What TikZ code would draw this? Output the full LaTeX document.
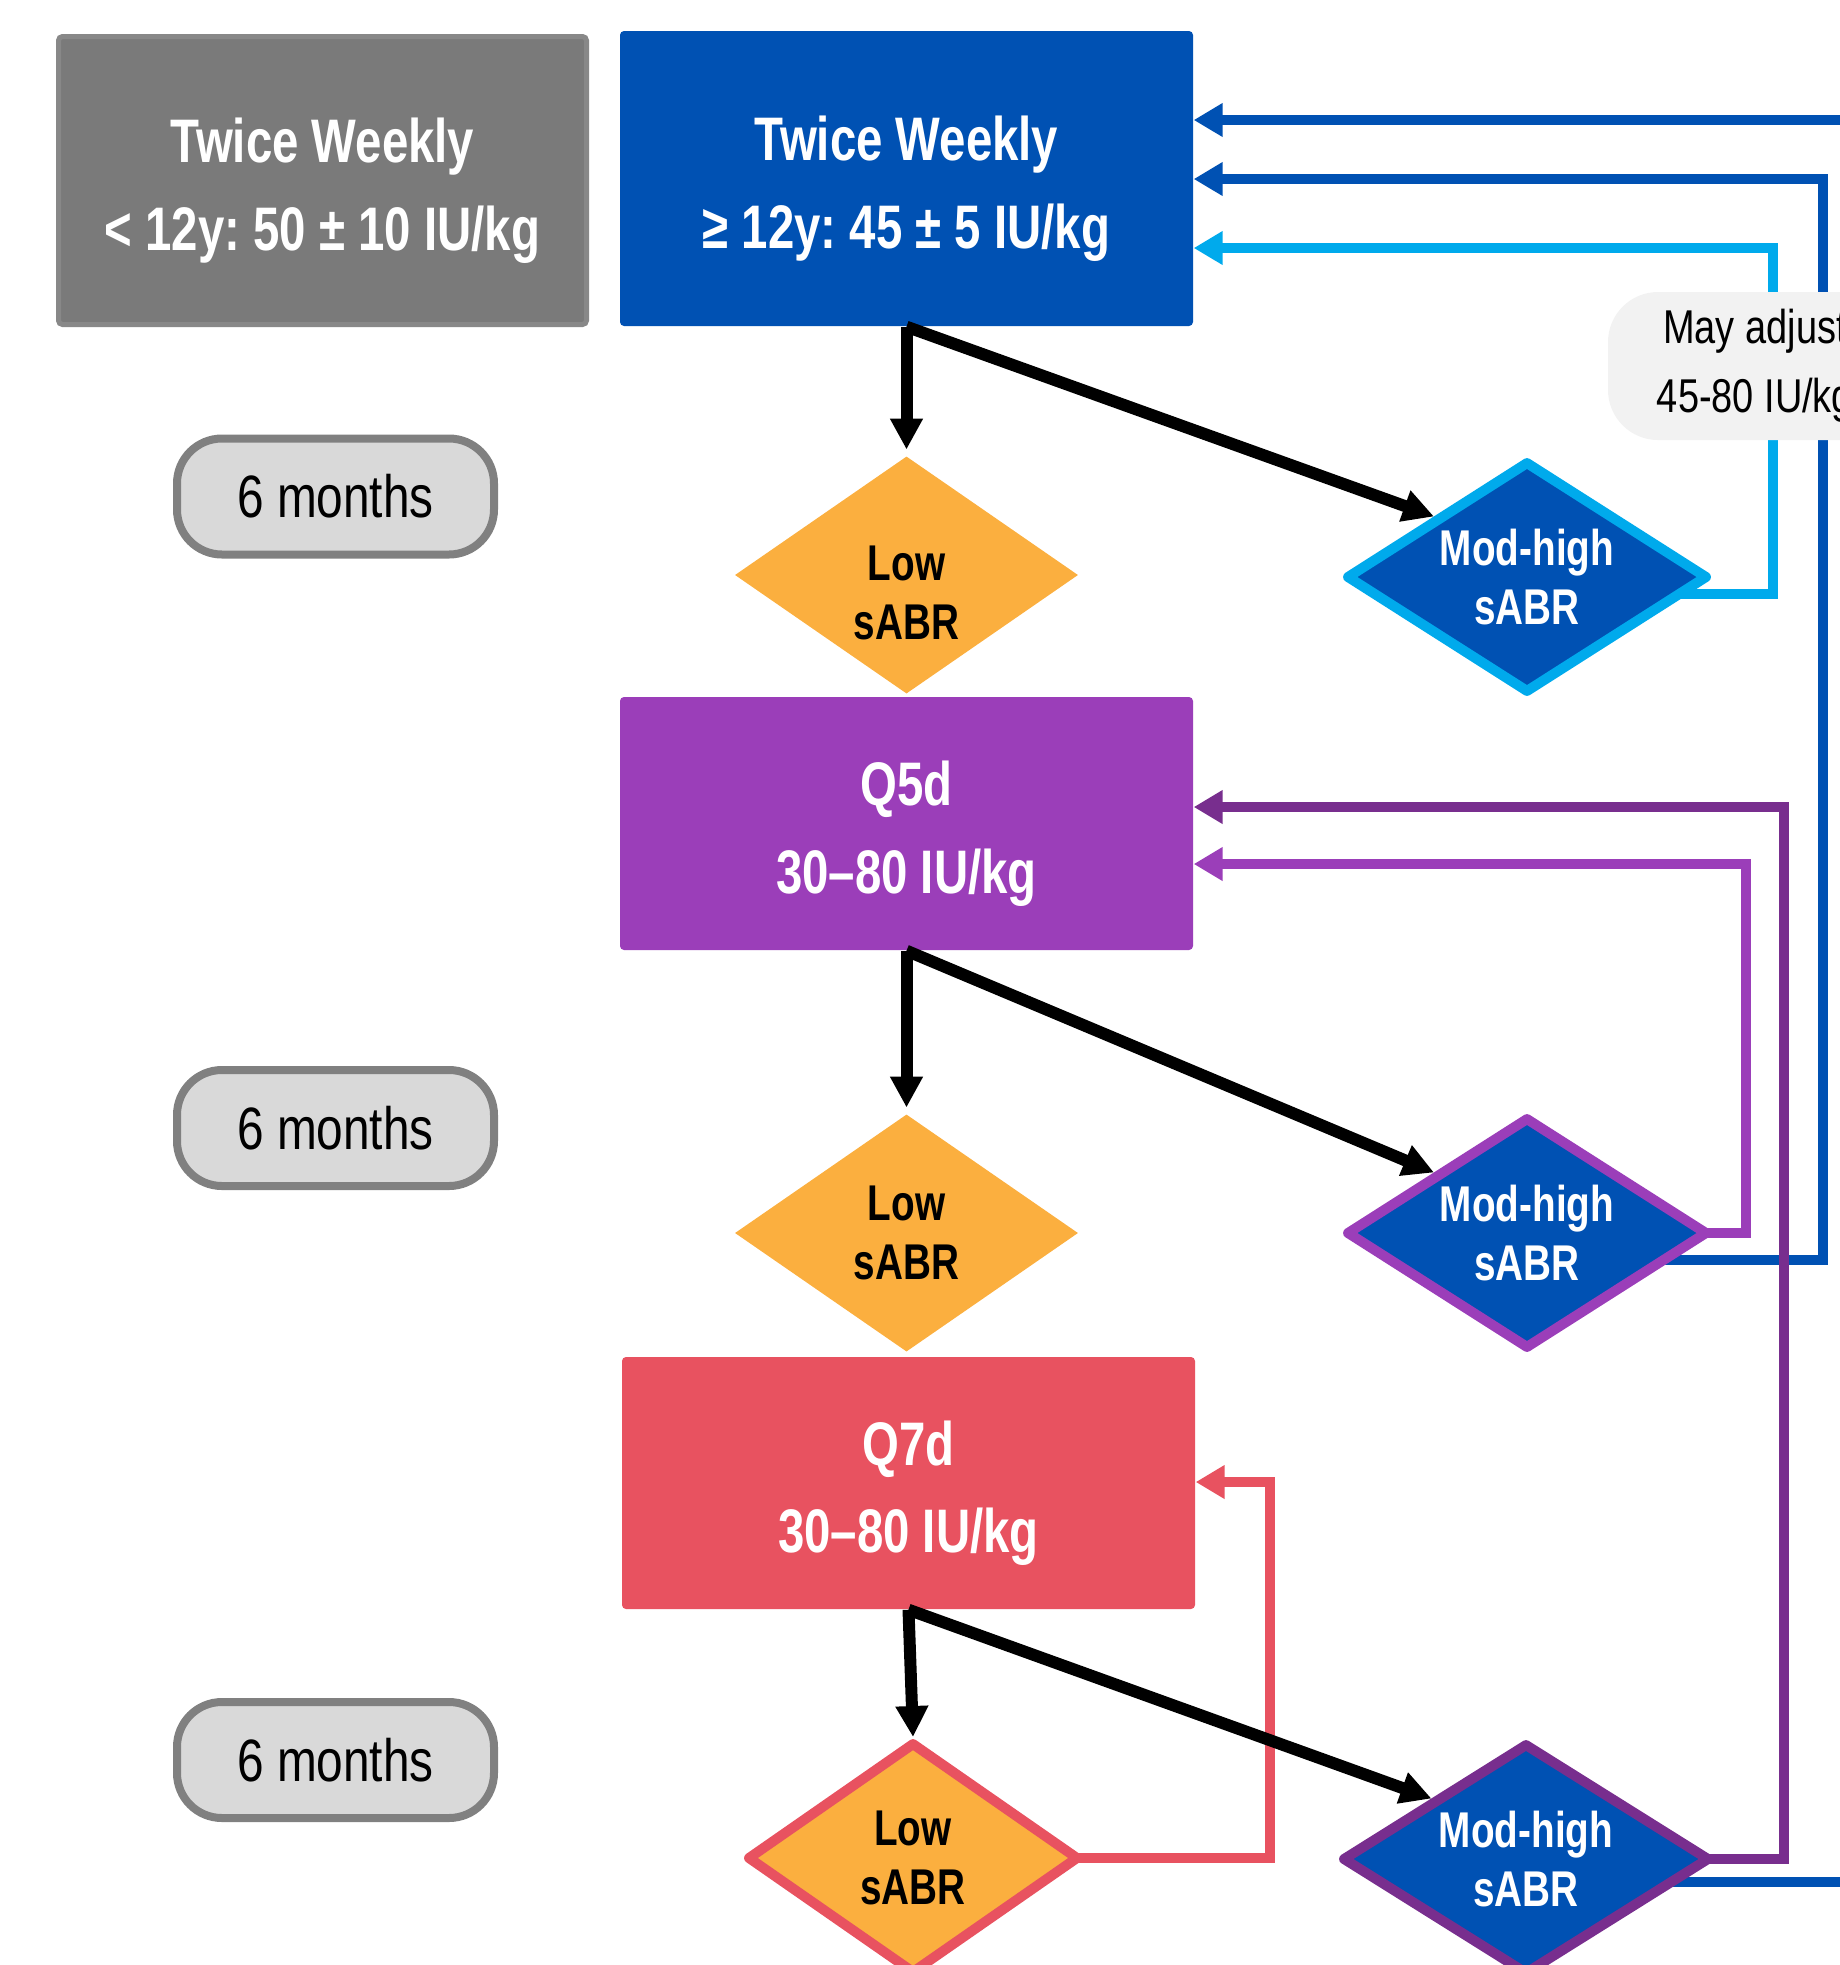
\documentclass[tikz,border=0pt]{standalone}
\usepackage{fontspec}
\setmainfont{Liberation Sans}[FakeStretch=0.8]
\newfontfamily\headfont{Liberation Sans}[FakeStretch=0.77]
\usetikzlibrary{shapes.geometric,arrows.meta,backgrounds}
\frenchspacing

\definecolor{dosegray}{RGB}{122,122,122}
\definecolor{doseedge}{RGB}{136,136,136}
\definecolor{doseblue}{RGB}{0,81,179}
\definecolor{dosepurple}{RGB}{155,62,185}
\definecolor{darkpurple}{RGB}{120,46,142}
\definecolor{dosered}{RGB}{232,82,96}
\definecolor{loworange}{RGB}{251,175,63}
\definecolor{lightblue}{RGB}{0,170,236}
\definecolor{pillgray}{RGB}{217,217,217}
\definecolor{pillline}{RGB}{128,128,128}
\definecolor{notegray}{RGB}{242,242,242}

\newcommand{\boxlift}{\rule{0pt}{18.5pt}}
\newcommand{\lowlift}{\rule{0pt}{20pt}}

\begin{document}
\begin{tikzpicture}[
  dosebox/.style={rectangle, rounded corners=0.04cm, minimum width=5.73cm, text=white,
    font=\fontsize{17.5}{25}\selectfont\headfont\bfseries, align=center},
  decision/.style={diamond, aspect=1.5, inner sep=0pt, line width=0.1cm, line join=round, align=center,
    font=\fontsize{14.3}{16.8}\selectfont\headfont\bfseries},
  lowbox/.style={decision, fill=loworange, minimum width=3.47cm, minimum height=2.41cm},
  highbox/.style={decision, fill=doseblue, text=white, minimum width=3.62cm, minimum height=2.32cm},
  pill/.style={rectangle, rounded corners=0.45cm, fill=pillgray, draw=pillline, line width=0.08cm,
    minimum width=3.17cm, minimum height=1.16cm, font=\fontsize{17}{20}\selectfont},
  steparrow/.style={line width=0.12cm, -{Triangle[length=0.31cm,width=0.31cm]}},
  backarrow/.style={line width=0.1cm, -{Triangle[length=0.29cm,width=0.32cm]}},
]
\useasboundingbox (0,0) rectangle (18.4,-19.65);
\clip (0,0) rectangle (18.4,-19.65);

\node[dosebox, fill=dosegray, draw=doseedge, line width=0.05cm, minimum width=5.28cm, minimum height=2.88cm] (twkid) at (3.225,-1.805) {\boxlift Twice Weekly\\< 12y: 50 ± 10 IU/kg};
\node[dosebox, fill=doseblue, minimum height=2.95cm] (twadult) at (9.065,-1.785) {\boxlift Twice Weekly\\≥ 12y: 45 ± 5 IU/kg};
\node[dosebox, fill=dosepurple, minimum height=2.53cm] (qfive) at (9.065,-8.235) {\boxlift Q5d\\30–80 IU/kg};
\node[dosebox, fill=dosered, minimum height=2.52cm] (qseven) at (9.085,-14.83) {\boxlift Q7d\\30–80 IU/kg};

\node[lowbox] (lowa) at (9.065,-5.75) {\lowlift Low\\sABR};
\node[highbox, draw=lightblue] (moda) at (15.27,-5.77) {Mod-high\\sABR};
\node[lowbox] (lowb) at (9.065,-12.33) {Low\\sABR};
\node[highbox, draw=dosepurple] (modb) at (15.27,-12.33) {Mod-high\\sABR};
\node[lowbox, draw=dosered, minimum width=3.32cm, minimum height=2.32cm] (lowc) at (9.13,-18.58) {Low\\sABR};
\node[highbox, draw=darkpurple, minimum width=3.68cm] (modc) at (15.26,-18.59) {Mod-high\\sABR};

\node[pill] (sixa) at (3.355,-4.965) {6 months};
\node[pill] (sixb) at (3.355,-11.28) {6 months};
\node[pill] (sixc) at (3.355,-17.6) {6 months};

\begin{scope}[on background layer]
\clip (0,0) rectangle (18.4,-19.65);
\draw[backarrow, lightblue] ([yshift=-0.17cm]moda.center) -| (17.73,-2.48) -- (twadult.east |- 0,-2.48);
\draw[backarrow, doseblue] ([yshift=-0.27cm]modb.center) -| (18.23,-1.79) -- (twadult.east |- 0,-1.79);
\draw[backarrow, doseblue] ([yshift=-0.23cm]modc.center) -| (19.0,-1.2) -- (twadult.east |- 0,-1.2);
\draw[backarrow, dosepurple] (modb.center) -| (17.46,-8.64) -- (qfive.east |- 0,-8.64);
\draw[backarrow, darkpurple] (modc.center) -| (17.84,-8.07) -- (qfive.east |- 0,-8.07);
\draw[backarrow, dosered] (lowc.center) -| (12.7,-14.82) -- (qseven.east |- 0,-14.82);
\end{scope}

\node[rectangle, rounded corners=0.5cm, fill=notegray, minimum width=2.94cm, minimum height=1.48cm,
  align=center, font=\fontsize{13.5}{19.6}\selectfont] (adjust) at (17.55,-3.66) {May adjust\\45-80 IU/kg};

\draw[steparrow] (twadult.south) -- (lowa.north);
\draw[steparrow] (twadult.south) -- (moda.north west);
\draw[steparrow] (qfive.south) -- (lowb.north);
\draw[steparrow] (qfive.south) -- (modb.north west);
\draw[steparrow] (qseven.south) -- (lowc.north);
\draw[steparrow] (qseven.south) -- (modc.north west);
\end{tikzpicture}
\end{document}
